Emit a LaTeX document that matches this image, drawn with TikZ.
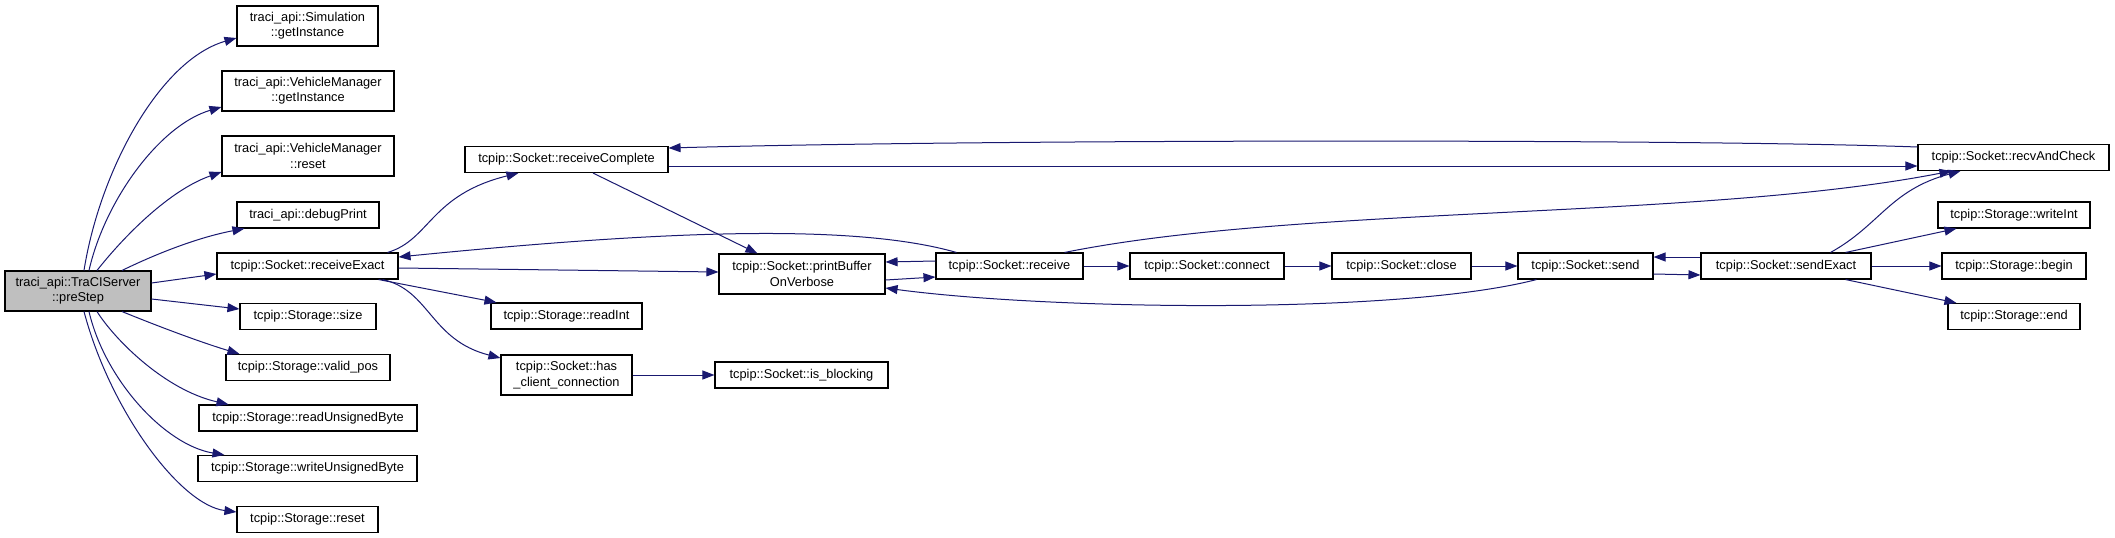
\documentclass[tikz,border=0pt]{standalone}
\usepackage{fontspec}
\setmainfont{Liberation Sans}
\usetikzlibrary{arrows.meta}
\definecolor{edgec}{HTML}{191970}
\definecolor{rootfill}{HTML}{BFBFBF}
\begin{document}
\begin{tikzpicture}[x=1pt,y=-1pt,
  fn/.style={draw=black, line width=1.1pt, rectangle, inner sep=0pt, align=center,
    font=\fontsize{12.8}{15.3}\selectfont, text=black, minimum height=26pt},
  fn2/.style={fn, minimum height=40pt},
  call/.style={draw=edgec, line width=1pt, -{Triangle[length=12pt,width=9pt]}}]
\useasboundingbox (0,0) rectangle (2115,538);
\fill[white] (0,0) rectangle (2115,538);

% nodes
\node[fn2, minimum width=146pt, fill=rootfill] (preStep) at (78,291) {traci\_api::TraCIServer\\::preStep};
\node[fn2, minimum width=141pt] (simGet) at (307.5,26) {traci\_api::Simulation\\::getInstance};
\node[fn2, minimum width=172pt] (vmGet) at (308,91) {traci\_api::VehicleManager\\::getInstance};
\node[fn2, minimum width=172pt] (vmReset) at (308,156) {traci\_api::VehicleManager\\::reset};
\node[fn, minimum width=142pt] (debugPrint) at (308,215) {traci\_api::debugPrint};
\node[fn, minimum width=181pt] (recvExact) at (307.5,266) {tcpip::Socket::receiveExact};
\node[fn, minimum width=136pt] (size) at (308,316.5) {tcpip::Storage::size};
\node[fn, minimum width=164pt] (validPos) at (308,367.5) {tcpip::Storage::valid\_pos};
\node[fn, minimum width=218pt] (readUB) at (308,418) {tcpip::Storage::readUnsignedByte};
\node[fn, minimum width=219pt] (writeUB) at (307.5,468.5) {tcpip::Storage::writeUnsignedByte};
\node[fn, minimum width=141pt] (stReset) at (307.5,519.5) {tcpip::Storage::reset};
\node[fn, minimum width=203pt] (recvComplete) at (566.5,159.5) {tcpip::Socket::receiveComplete};
\node[fn2, minimum width=166pt] (printBuf) at (802,274) {tcpip::Socket::printBuffer\\OnVerbose};
\node[fn, minimum width=151pt] (readInt) at (566.5,316) {tcpip::Storage::readInt};
\node[fn2, minimum width=131pt] (hasClient) at (566.5,375) {tcpip::Socket::has\\\_client\_connection};
\node[fn, minimum width=173pt] (isBlocking) at (801.5,375) {tcpip::Socket::is\_blocking};
\node[fn, minimum width=147pt] (receive) at (1009.5,266) {tcpip::Socket::receive};
\node[fn, minimum width=154pt] (connect) at (1207,266) {tcpip::Socket::connect};
\node[fn, minimum width=139pt] (close) at (1401.5,266) {tcpip::Socket::close};
\node[fn, minimum width=135pt] (send) at (1585.5,266) {tcpip::Socket::send};
\node[fn, minimum width=170pt] (sendExact) at (1786,266) {tcpip::Socket::sendExact};
\node[fn, minimum width=191pt] (recvAndCheck) at (2013.5,157.5) {tcpip::Socket::recvAndCheck};
\node[fn, minimum width=152pt] (writeInt) at (2014,215) {tcpip::Storage::writeInt};
\node[fn, minimum width=144pt] (stBegin) at (2014,266) {tcpip::Storage::begin};
\node[fn, minimum width=132pt] (stEnd) at (2014,316.5) {tcpip::Storage::end};

% edges from preStep
\draw[call] ([xshift=6pt]preStep.north) .. controls (100,170) and (160,60) .. ([yshift=-12pt]simGet.west);
\draw[call] ([xshift=11pt]preStep.north) .. controls (105,200) and (160,125) .. ([yshift=-16pt]vmGet.west);
\draw[call] ([xshift=19pt]preStep.north) .. controls (125,235) and (170,190) .. ([yshift=-16pt]vmReset.west);
\draw[call] ([xshift=44pt]preStep.north) .. controls (160,252) and (200,237) .. ([xshift=8pt]debugPrint.south west);
\draw[call] ([yshift=8pt]preStep.east) -- ([yshift=-8pt]recvExact.west);
\draw[call] ([yshift=-8pt]preStep.east) -- ([yshift=7.5pt]size.west);
\draw[call] ([xshift=44pt]preStep.south) .. controls (160,327) and (200,342) .. ([xshift=14pt]validPos.north west);
\draw[call] ([xshift=19pt]preStep.south) .. controls (115,340) and (165,390) .. ([xshift=30pt]readUB.north west);
\draw[call] ([xshift=11pt]preStep.south) .. controls (105,380) and (165,445) .. ([xshift=27pt]writeUB.north west);
\draw[call] ([xshift=6pt]preStep.south) .. controls (110,410) and (180,505) .. ([yshift=7.5pt]stReset.west);

% edges from receiveExact
\draw[call] ([xshift=-11pt]recvExact.north east) .. controls (430,240) and (430,195) .. ([xshift=54pt]recvComplete.south west);
\draw[call] ([yshift=-2pt]recvExact.east) -- ([yshift=2pt]printBuf.west);
\draw[call] ([xshift=-20pt]recvExact.south east) -- ([xshift=6pt]readInt.north west);
\draw[call] ([xshift=-16pt]recvExact.south east) .. controls (430,290) and (430,340) .. ([yshift=17pt]hasClient.west);

% receiveComplete
\draw[call] ([yshift=-6.5pt]recvComplete.east) -- ([yshift=-8.5pt]recvAndCheck.west);
\draw[call] ([yshift=10.5pt]recvAndCheck.west) .. controls (1700,139) and (1000,139) .. ([yshift=11.5pt]recvComplete.east);
\draw[call] ([xshift=26.5pt]recvComplete.south) -- ([xshift=39pt]printBuf.north west);

% hasClient
\draw[call] (hasClient.east) -- (isBlocking.west);

% receive
\draw[call] ([xshift=21pt]receive.north west) .. controls (850,222) and (650,232) .. ([yshift=9pt]recvExact.east);
\draw[call] ([yshift=5pt]receive.west) -- ([yshift=12pt]printBuf.east);
\draw[call] ([yshift=-6pt]printBuf.east) -- ([yshift=-11pt]receive.west);
\draw[call] (receive.east) -- (connect.west);
\draw[call] ([xshift=-19pt]receive.north east) .. controls (1300,205) and (1700,220) .. ([xshift=34pt]recvAndCheck.south west);
\draw[call] (connect.east) -- (close.west);
\draw[call] (close.east) -- (send.west);

% send
\draw[call] ([xshift=19pt]send.south west) .. controls (1400,315) and (1050,310) .. ([yshift=-14pt]printBuf.east);
\draw[call] ([yshift=-8pt]send.east) -- ([yshift=-9pt]sendExact.west);
\draw[call] ([yshift=9pt]sendExact.west) -- ([yshift=9pt]send.east);

% sendExact
\draw[call] ([xshift=-41pt]sendExact.north east) .. controls (1880,225) and (1890,190) .. ([xshift=43pt]recvAndCheck.south west);
\draw[call] ([xshift=-26pt]sendExact.north east) -- ([xshift=19pt]writeInt.south west);
\draw[call] (sendExact.east) -- (stBegin.west);
\draw[call] ([xshift=-26pt]sendExact.south east) -- ([xshift=9pt]stEnd.north west);
\end{tikzpicture}
\end{document}
